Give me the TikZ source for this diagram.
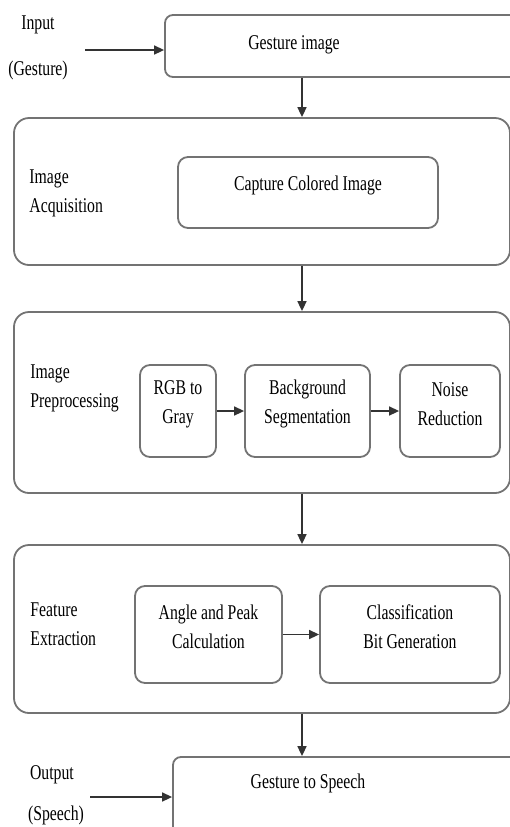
\documentclass[tikz,border=0pt]{standalone}
\usepackage{fontspec}
\setmainfont[FakeStretch=0.75]{Liberation Serif}
\usetikzlibrary{fit,arrows.meta}

\begin{document}
\begin{tikzpicture}[x=0.5pt, y=-0.5pt, font=\fontsize{10.5}{14.5}\selectfont,
  stage/.style={draw=black!55, line width=0.9pt, rounded corners=7.5pt, inner sep=0pt},
  io/.style={draw=black!55, line width=0.9pt, rounded corners=4pt, inner sep=0pt},
  task/.style={draw=black!55, line width=0.9pt, rounded corners=5pt, inner sep=0pt, align=center},
  side/.style={anchor=west, align=left, inner sep=0pt},
  arr/.style={draw=black!80, line width=0.8pt, -{Triangle[length=5pt,width=4.5pt]}}]
\useasboundingbox (0,0) rectangle (510,827);

% input and output
\node[io, fit={(165,15) (530,77)}] (gest) {};
\node (gesttxt) at (294,45) {Gesture image};
\node (inp) at (38,25) {Input};
\node (inpg) at (38,70) {(Gesture)};
\coordinate (inpend) at (85,50);
\draw[arr] (inpend) -- (inpend -| gest.west);

\node[io, fit={(173,757) (530,850)}] (speech) {};
\node (speechtxt) at (308,783) {Gesture to Speech};
\node (outp) at (52,775) {Output};
\node (outps) at (56,815) {(Speech)};
\coordinate (outend) at (90,797);
\draw[arr] (outend) -- (outend -| speech.west);

% stages
\node[stage, fit={(14,118) (510,265)}] (acq) {};
\node[side] (acqlbl) at (29,193) {Image\\Acquisition};
\node[task, fit={(178,157) (438,228)}] (capt) {Capture Colored Image};

\node[stage, fit={(14,312) (510,493)}] (pre) {};
\node[side] (prelbl) at (30,388) {Image\\Preprocessing};
\node[task, fit={(140,365) (216,457)}] (gray) {RGB to\\Gray};
\node[task, fit={(245,365) (370,457)}] (seg) {Background\\Segmentation};
\node[task, fit={(400,365) (500,457)}] (noise) {Noise\\Reduction};
\draw[arr] (gray) -- (seg);
\draw[arr] (seg) -- (noise);

\node[stage, fit={(14,545) (510,713)}] (feat) {};
\node[side] (featlbl) at (30,624) {Feature\\Extraction};
\node[task, fit={(135,586) (282,683)}] (peak) {Angle and Peak\\Calculation};
\node[task, fit={(320,586) (500,683)}] (bits) {Classification\\Bit Generation};
\draw[arr] (peak) -- (bits);

% flow down
\coordinate (mid) at (302,0);
\draw[arr] (gest.south -| mid) -- (acq.north -| mid);
\draw[arr] (acq.south -| mid) -- (pre.north -| mid);
\draw[arr] (pre.south -| mid) -- (feat.north -| mid);
\draw[arr] (feat.south -| mid) -- (speech.north -| mid);
\end{tikzpicture}
\end{document}
